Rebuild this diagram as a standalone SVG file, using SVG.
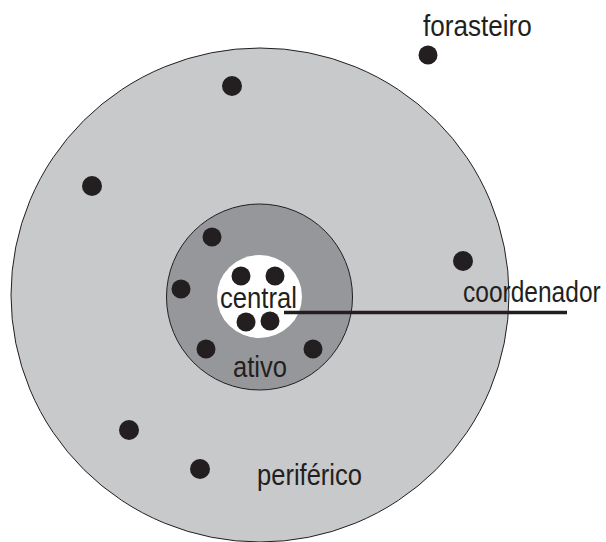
<svg xmlns="http://www.w3.org/2000/svg" width="606" height="542" viewBox="0 0 606 542">
<style>
.ring{stroke:#231f20;stroke-width:1}
.dot{fill:#231f20}
.lbl{font-family:"Liberation Sans","DejaVu Sans",sans-serif;font-size:30px;fill:#231f20}
</style>
<rect width="606" height="542" fill="#ffffff"/>
<g id="periferico">
<ellipse class="ring" cx="260" cy="295" rx="249" ry="247" fill="#c8c9cb"/>
<circle class="dot" cx="232" cy="86" r="10"/>
<circle class="dot" cx="92" cy="186" r="10"/>
<circle class="dot" cx="463" cy="261" r="10"/>
<circle class="dot" cx="129" cy="430" r="10"/>
<circle class="dot" cx="200" cy="469" r="10"/>
<text class="lbl" transform="translate(257,485) scale(0.85,1)" textLength="123.5" lengthAdjust="spacingAndGlyphs">periférico</text>
</g>
<g id="ativo">
<circle class="ring" cx="259.5" cy="297" r="93" fill="#96979a"/>
<circle class="dot" cx="212" cy="237" r="9.5"/>
<circle class="dot" cx="181" cy="289" r="9.5"/>
<circle class="dot" cx="206" cy="349" r="9.5"/>
<circle class="dot" cx="313" cy="349" r="9.5"/>
<text class="lbl" transform="translate(233,377) scale(0.85,1)" textLength="63.5" lengthAdjust="spacingAndGlyphs">ativo</text>
</g>
<g id="central">
<ellipse cx="259.5" cy="296.5" rx="42.5" ry="41.5" fill="#ffffff"/>
<circle class="dot" cx="241" cy="276" r="9.5"/>
<circle class="dot" cx="275" cy="276" r="9.5"/>
<circle class="dot" cx="246" cy="322" r="9.5"/>
<circle class="dot" cx="270" cy="321" r="9.5"/>
<text class="lbl" transform="translate(220,308) scale(0.85,1)" textLength="90.5" lengthAdjust="spacingAndGlyphs">central</text>
</g>
<g id="connectors">
<line x1="284" y1="312.5" x2="567" y2="312.5" stroke="#231f20" stroke-width="3.3"/>
</g>
<g id="coordenador">
<text class="lbl" transform="translate(463,302) scale(0.85,1)" textLength="162" lengthAdjust="spacingAndGlyphs">coordenador</text>
</g>
<g id="forasteiro">
<circle class="dot" cx="428" cy="55" r="9.5"/>
<text class="lbl" transform="translate(423,36) scale(0.85,1)" textLength="128" lengthAdjust="spacingAndGlyphs">forasteiro</text>
</g>
</svg>
